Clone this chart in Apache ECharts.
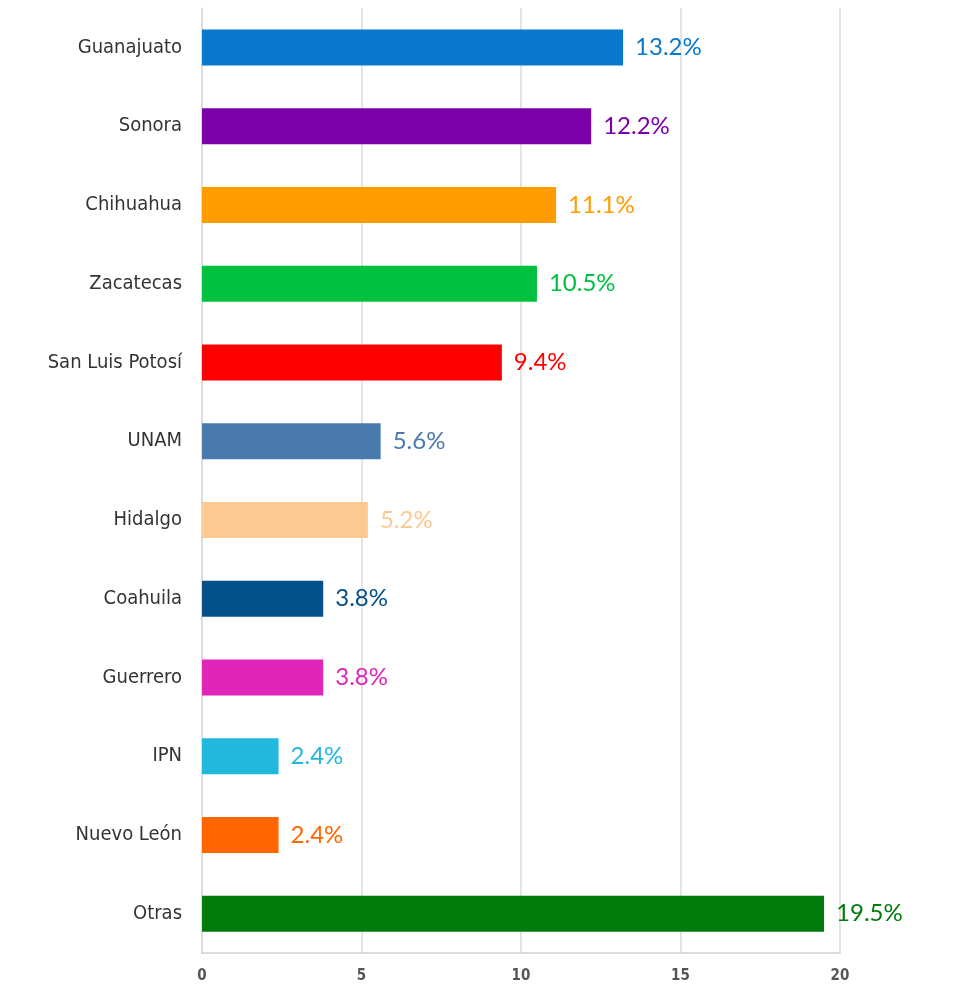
<!DOCTYPE html>
<html>
<head>
<meta charset="utf-8">
<script src="https://cdn.jsdelivr.net/npm/echarts@6/dist/echarts.min.js"></script>
<style>
  html, body { margin: 0; padding: 0; background: #fff; }
  #main { width: 955px; height: 988px; }
</style>
</head>
<body>
<div id="main"></div>
<script>
// datos
var categorias = ['Guanajuato', 'Sonora', 'Chihuahua', 'Zacatecas', 'San Luis Potosí', 'UNAM',
    'Hidalgo', 'Coahuila', 'Guerrero', 'IPN', 'Nuevo León', 'Otras'];
var valores = [13.2, 12.2, 11.1, 10.5, 9.4, 5.6, 5.2, 3.8, 3.8, 2.4, 2.4, 19.5];
var colores = ['#0a78cc', '#7b00a8', '#ff9c00', '#00c040', '#ff0000', '#4a7aab',
    '#fdc993', '#03508a', '#df26b8', '#22b8de', '#ff6600', '#037a0c'];
var ticksX = [0, 5, 10, 15, 20];

var myChart = echarts.init(document.getElementById('main'));

var option = {
    animation: false,
    grid: { left: 202, right: 115, top: 8, bottom: 35 },
    xAxis: {
        type: 'value',
        min: ticksX[0],
        max: ticksX[ticksX.length - 1],
        interval: 5,
        axisLine: { show: true, lineStyle: { color: '#cfcfcf', width: 1.5 } },
        axisTick: { show: false },
        axisLabel: {
            color: '#555',
            fontSize: 15,
            fontWeight: 'bold',
            fontFamily: 'DejaVu Sans Condensed',
            margin: 16
        },
        splitLine: { show: true, lineStyle: { color: '#dcdcdc', width: 1.5 } }
    },
    yAxis: {
        type: 'category',
        inverse: true,
        data: categorias,
        axisLine: { show: true, lineStyle: { color: '#dcdcdc', width: 1.5 } },
        axisTick: { show: false },
        axisLabel: {
            color: '#333',
            fontSize: 20,
            fontFamily: 'DejaVu Sans Condensed, sans-serif',
            margin: 20
        }
    },
    series: [{
        type: 'bar',
        barWidth: 36,
        data: valores.map(function (v, i) {
            return {
                value: v,
                itemStyle: { color: colores[i] },
                label: { color: colores[i] }
            };
        }),
        label: {
            show: true,
            position: 'right',
            distance: 12,
            fontSize: 24,
            fontFamily: 'Lato, sans-serif',
            formatter: function (p) { return p.value.toFixed(1) + '%'; }
        }
    }]
};

myChart.setOption(option);
</script>
</body>
</html>
